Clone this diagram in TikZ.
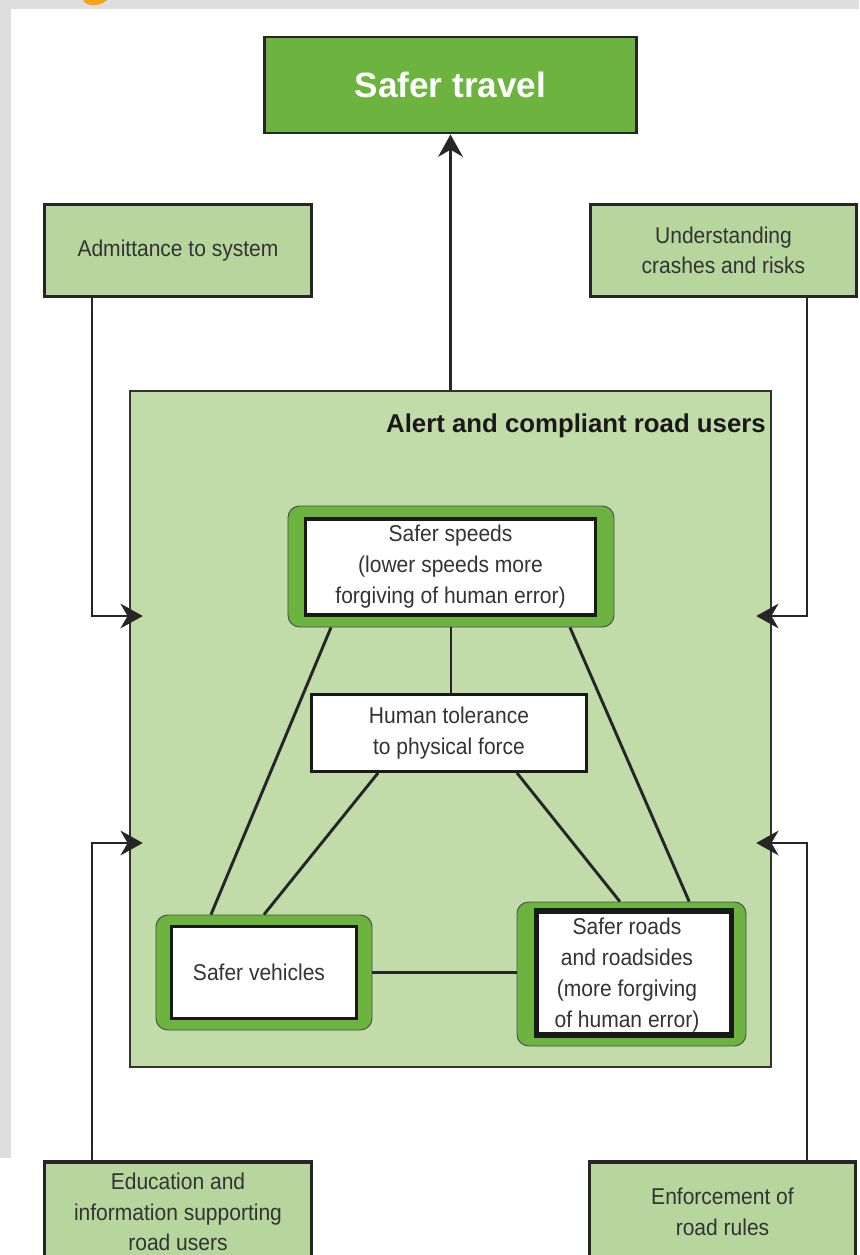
\documentclass[tikz,border=0pt]{standalone}
\usepackage{fontspec}
\setmainfont{Liberation Sans}[FakeStretch=0.92]
\newfontfamily\headfont{Liberation Sans}
\usetikzlibrary{arrows.meta,calc}

\definecolor{leafgreen}{HTML}{6DB33F}
\definecolor{palegreen}{HTML}{B7D69D}
\definecolor{fieldgreen}{HTML}{C1DCA9}
\definecolor{inkgray}{HTML}{333333}
\definecolor{framegray}{HTML}{DEDEDE}
\definecolor{fragorange}{HTML}{F7A21B}

\tikzset{
  goalbox/.style={draw=black!85, line width=2.5pt, fill=leafgreen, text=white,
    font=\headfont\bfseries\fontsize{30}{36}\selectfont},
  factorbox/.style={draw=black!85, line width=2.8pt, fill=palegreen, text=inkgray,
    align=center, minimum width=8.0cm, minimum height=2.76cm,
    font=\fontsize{19.5}{26}\selectfont},
  pillarbg/.style={draw=black!70, line width=0.8pt, fill=leafgreen, rounded corners=10pt},
  pillar/.style={draw=black!90, line width=2.6pt, fill=white, text=inkgray,
    align=center, font=\fontsize{19.5}{26.5}\selectfont},
  pillartext/.style={text=inkgray, align=center, inner sep=0pt,
    font=\fontsize{19.5}{26.5}\selectfont},
  link/.style={line width=2.5pt, draw=black!85},
  feed/.style={link, -{Stealth[length=19pt,width=21pt,inset=6pt]}},
}

\begin{document}
\begin{tikzpicture}[x=0.03cm, y=-0.03cm]
  \useasboundingbox (0,0) rectangle (859,1255);

  % frame of the page scan
  \fill[framegray] (0,0) rectangle (859,1255);
  \fill[white] (11,9) rectangle (859,1255);
  \fill[white] (0,1158) rectangle (11,1255);
  \fill[fragorange] (83,0) .. controls (86,7) and (100,7) .. (107,0) -- cycle;

  % goal
  \node[goalbox, minimum width=11.16cm, minimum height=2.88cm] (travel) at (450.5,85) {Safer travel};

  % outer factors
  \node[factorbox] (admit) at (178,250.5) {Admittance to system};
  \node[factorbox] (crashes) at (723.5,250.5) {Understanding\\crashes and risks};
  \node[factorbox, minimum height=3cm] (educ) at (178,1212) {Education and\\information supporting\\road users};
  \node[factorbox, minimum height=3cm] (enforce) at (722.5,1212) {Enforcement of\\road rules};

  % road users field
  \node[draw=black!80, line width=2pt, fill=fieldgreen, minimum width=19.23cm,
    minimum height=20.28cm] (field) at (450.5,729) {};
  \node[font=\headfont\bfseries\fontsize{22}{26}\selectfont, text=black!90,
    anchor=base east, inner sep=0pt] (fieldtitle) at (766,432) {Alert and compliant road users};

  % pillars
  \node[pillarbg, minimum width=9.78cm, minimum height=3.63cm] (speedsbg) at (451,566.5) {};
  \node[pillar, minimum width=8.7cm, minimum height=2.88cm] (speeds) at (450.5,567)
    {Safer speeds\\(lower speeds more\\forgiving of human error)};
  \node[pillar, minimum width=8.25cm, minimum height=2.31cm] (tol) at (449,733)
    {Human tolerance\\to physical force};
  \node[pillarbg, minimum width=6.48cm, minimum height=3.45cm] (vehbg) at (264,972.5) {};
  \node[pillar, minimum width=5.55cm, minimum height=2.76cm] (veh) at (264,972.5) {};
  \node[pillartext] (vehlabel) at (259,972.5) {Safer vehicles};
  \node[pillarbg, minimum width=6.87cm, minimum height=4.32cm] (roadsbg) at (631.5,974) {};
  \node[pillar, line width=4.3pt, minimum width=5.85cm, minimum height=3.72cm] (roads) at (634,973) {};
  \node[pillartext] (roadslabel) at (627,975)
    {Safer roads\\and roadsides\\(more forgiving\\of human error)};

  % links between pillars
  \draw[link] (speedsbg.south) -- (speedsbg.south |- tol.north);
  \draw[link] ([xshift=-3.6cm]speedsbg.south) -- ([xshift=-1.59cm]vehbg.north);
  \draw[link] ([xshift=3.57cm]speedsbg.south) -- ([xshift=1.73cm]roadsbg.north);
  \draw[link] ([xshift=-2.13cm]tol.south) -- (vehbg.north);
  \draw[link] ([xshift=2.04cm]tol.south) -- ([xshift=-0.35cm]roadsbg.north);
  \draw[link] (vehbg.east) -- (vehbg.east -| roadsbg.west);

  % feeds into the field
  \draw[feed] (field.north) -- (travel.south);
  \coordinate (ka) at (92,616);
  \coordinate (kb) at (807,616);
  \coordinate (kc) at (92,843);
  \coordinate (kd) at (807,843);
  \draw[feed] (ka |- admit.south) -- (ka) -- ($(ka -| field.west)+(14,0)$);
  \draw[feed] (kb |- crashes.south) -- (kb) -- ($(kb -| field.east)+(-16,0)$);
  \draw[feed] (kc |- educ.north) -- (kc) -- ($(kc -| field.west)+(14,0)$);
  \draw[feed] (kd |- enforce.north) -- (kd) -- ($(kd -| field.east)+(-16,0)$);
\end{tikzpicture}
\end{document}
